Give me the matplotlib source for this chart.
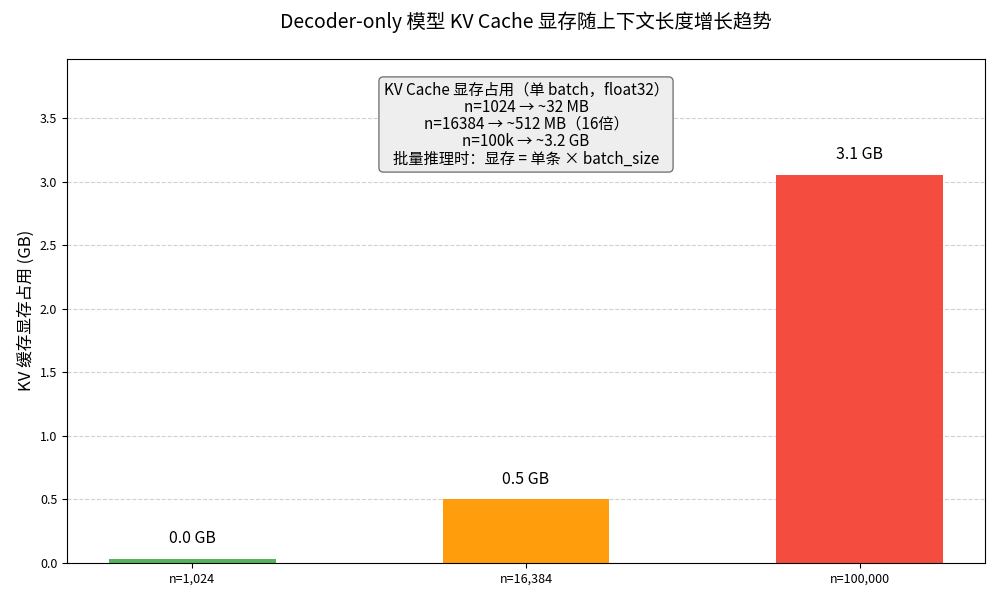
import matplotlib
matplotlib.use("Agg")
import matplotlib.pyplot as plt

plt.rcParams['font.family'] = ['Noto Sans CJK SC', 'DejaVu Sans']
plt.rcParams['axes.unicode_minus'] = False

categories = ["n=1,024", "n=16,384", "n=100,000"]
kv_cache_gb = [0.03125, 0.5, 3.0517578125]
bar_colors = ["#4CAF50", "#FF9800", "#F44336"]

title = "Decoder-only 模型 KV Cache 显存随上下文长度增长趋势"
ylabel = "KV 缓存显存占用 (GB)"
note_lines = [
    "KV Cache 显存占用（单 batch，float32）",
    "n=1024 → ~32 MB",
    "n=16384 → ~512 MB（16倍）",
    "n=100k → ~3.2 GB",
    "批量推理时：显存 = 单条 × batch_size",
]

fig, ax = plt.subplots(figsize=(10, 6), dpi=100)
fig.subplots_adjust(left=0.067, right=0.985, top=0.902, bottom=0.062)

x = list(range(len(categories)))
bars = ax.bar(x, kv_cache_gb, width=0.5, color=bar_colors, alpha=0.95)
ax.set_xticks(x)
ax.set_xticklabels(categories, fontsize=9)
ax.tick_params(axis='y', labelsize=9)

ymax = max(kv_cache_gb)
ax.set_ylim(0, ymax * 1.3)
for xi, h in zip(x, kv_cache_gb):
    ax.text(xi, h + ymax * 0.03, f"{h:.1f} GB", ha='center', va='bottom', fontsize=11.5)

ax.set_ylabel(ylabel, fontsize=12)
ax.set_title(title, fontsize=14, pad=22)
ax.yaxis.grid(True, linestyle='--', color='#cccccc', alpha=0.9)
ax.set_axisbelow(True)

ax.text(0.5, 0.955, "\n".join(note_lines), transform=ax.transAxes,
        ha='center', va='top', fontsize=11, linespacing=1.02,
        bbox=dict(boxstyle='round,pad=0.3', facecolor='#eeeeee', edgecolor='#777777'))

fig.savefig("out.png", dpi=100)
